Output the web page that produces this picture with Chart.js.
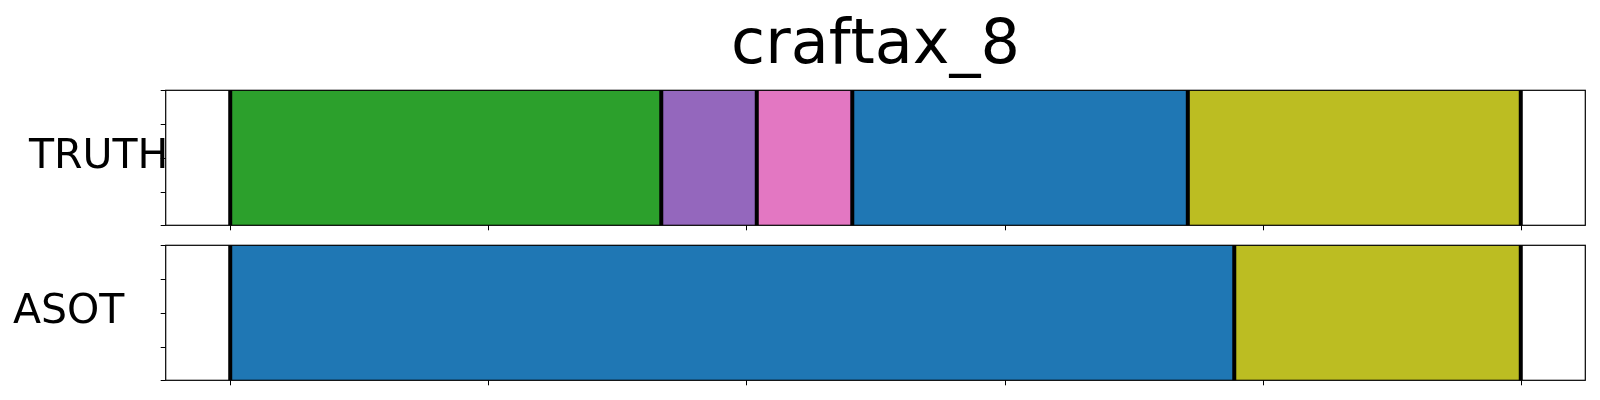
<!DOCTYPE html>
<html>
<head>
<meta charset="utf-8">
<script src="https://cdn.jsdelivr.net/npm/chart.js@4.4.1/dist/chart.umd.min.js"></script>
<style>
  html, body { margin: 0; padding: 0; background: #ffffff; }
  #wrap { position: relative; width: 1600px; height: 400px; overflow: hidden; }
  canvas { position: absolute; left: 0; top: 0; }
</style>
</head>
<body>
<div id="wrap">
  <canvas id="top" width="1600" height="400"></canvas>
  <canvas id="bottom" width="1600" height="400"></canvas>
</div>
<script>
// ---- data ----
const chartTitle = 'craftax_8';
const rowLabels = ['TRUTH', 'ASOT'];
const totalLength = 500;
const xTickValues = [0, 100, 200, 300, 400, 500];
const truthBounds = [0, 167, 204, 241, 371, 500];
const truthColors = ['#2ca02c', '#9467bd', '#e377c2', '#1f77b4', '#bcbd22'];
const asotBounds = [0, 389, 500];
const asotColors = ['#1f77b4', '#bcbd22'];
const yTickValues = [0, 0.25, 0.5, 0.75, 1];

function segments(bounds) {
  const out = [];
  for (let i = 0; i < bounds.length - 1; i++) out.push([bounds[i], bounds[i + 1]]);
  return out;
}

const FONT = '"DejaVu Sans", "Liberation Sans", sans-serif';
const TICK_LEN = 5;

const framePlugin = {
  id: 'frameAndBounds',
  afterDatasetsDraw(chart, args, opts) {
    const {ctx, chartArea} = chart;
    const xs = chart.scales.x;
    const ys = chart.scales.yt;
    ctx.save();
    ctx.strokeStyle = '#000000';
    ctx.lineWidth = 4;
    opts.bounds.forEach(v => {
      const px = xs.getPixelForValue(v);
      ctx.beginPath();
      ctx.moveTo(px, chartArea.top);
      ctx.lineTo(px, chartArea.bottom);
      ctx.stroke();
    });
    // tick marks
    ctx.lineWidth = 1;
    xTickValues.forEach(v => {
      const px = Math.round(xs.getPixelForValue(v)) + 0.5;
      ctx.beginPath();
      ctx.moveTo(px, chartArea.bottom);
      ctx.lineTo(px, chartArea.bottom + TICK_LEN);
      ctx.stroke();
    });
    yTickValues.forEach(v => {
      const py = Math.round(ys.getPixelForValue(v)) + 0.5;
      ctx.beginPath();
      ctx.moveTo(chartArea.left - TICK_LEN, py);
      ctx.lineTo(chartArea.left, py);
      ctx.stroke();
    });
    ctx.lineWidth = 1.2;
    ctx.strokeRect(chartArea.left, chartArea.top, chartArea.right - chartArea.left, chartArea.bottom - chartArea.top);
    ctx.restore();
  },
  afterDraw(chart, args, opts) {
    const {ctx} = chart;
    ctx.save();
    if ('fontKerning' in ctx) ctx.fontKerning = 'none';
    ctx.fillStyle = '#000000';
    ctx.textBaseline = 'alphabetic';
    if (opts.title) {
      ctx.font = '62px ' + FONT;
      ctx.textAlign = 'center';
      ctx.fillText(opts.title, (chart.chartArea.left + chart.chartArea.right) / 2, 63);
    }
    ctx.font = '41px ' + FONT;
    ctx.textAlign = 'left';
    ctx.fillText(opts.label, opts.labelX, opts.labelY);
    ctx.restore();
  }
};

function makeChart(id, label, bounds, colors, pad, labelX, labelY, title) {
  return new Chart(document.getElementById(id), {
    type: 'bar',
    data: {
      labels: [label],
      datasets: [{
        data: segments(bounds).map(s => ({x: s, y: label})),
        backgroundColor: colors,
        borderWidth: 0,
        grouped: false,
        barPercentage: 1,
        categoryPercentage: 1
      }]
    },
    options: {
      indexAxis: 'y',
      responsive: false,
      animation: false,
      devicePixelRatio: 1,
      layout: { padding: pad },
      plugins: {
        legend: { display: false },
        tooltip: { enabled: false },
        title: { display: false },
        frameAndBounds: { bounds: bounds, label: label, labelX: labelX, labelY: labelY, title: title }
      },
      scales: {
        x: {
          type: 'linear',
          min: -0.05 * totalLength,
          max: 1.05 * totalLength,
          offset: false,
          position: 'bottom',
          ticks: { display: false },
          afterBuildTicks(s) { s.ticks = xTickValues.map(v => ({value: v})); },
          grid: { display: false, drawOnChartArea: false, drawTicks: false },
          border: { display: false },
          afterFit(s) { s.height = TICK_LEN; }
        },
        y: {
          type: 'category',
          display: false,
          offset: true
        },
        yt: {
          type: 'linear',
          position: 'left',
          offset: false,
          min: yTickValues[0],
          max: yTickValues[yTickValues.length - 1],
          ticks: { display: false },
          afterBuildTicks(s) { s.ticks = yTickValues.map(v => ({value: v})); },
          grid: { display: false, offset: false, drawOnChartArea: false, drawTicks: false },
          border: { display: false },
          afterFit(s) { s.width = TICK_LEN; }
        }
      }
    },
    plugins: [framePlugin]
  });
}

makeChart('top', rowLabels[0], truthBounds, truthColors,
  {left: 160.7, right: 14.7, top: 90.3, bottom: 169.7}, 29, 168.3, chartTitle);
makeChart('bottom', rowLabels[1], asotBounds, asotColors,
  {left: 160.7, right: 14.7, top: 245.3, bottom: 14.7}, 13, 323.3, null);
</script>
</body>
</html>
